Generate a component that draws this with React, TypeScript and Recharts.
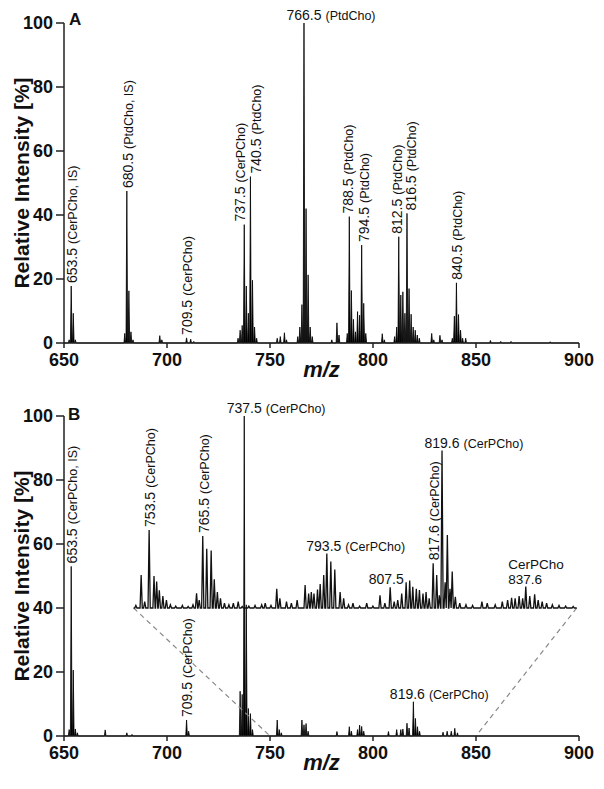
import React from "react";
import {
  Area,
  ComposedChart,
  Line,
  ReferenceLine,
  Scatter,
  XAxis,
  YAxis,
} from "recharts";

const X_TICKS = [650, 700, 750, 800, 850, 900];
const Y_TICKS = [0, 20, 40, 60, 80, 100];

// panel A: m/z and relative intensity of each peak
const A_MZ = [
  652.5, 653.5, 654.5, 655.5, 679.5, 680.5, 681.5, 682.5, 683.5, 696.5, 697.5,
  709.5, 711.5, 713, 734.5, 735.5, 736.5, 737.5, 738.5, 739.5, 740.5, 741.5,
  742.5, 743.5, 753.5, 755, 757, 758, 763.5, 764.5, 765.5, 766.5, 767.5, 768.5,
  769.5, 770.5, 780, 782.5, 783.5, 787.5, 788.5, 789.5, 790.5, 791.5, 792.5,
  793.5, 794.5, 795.5, 796.5, 804.5, 805.5, 810.5, 811.5, 812.5, 813.5, 814.5,
  815.5, 816.5, 817.5, 818.5, 819.5, 820.5, 821.5, 822.5, 828.5, 829.5, 832.5,
  833.5, 838.5, 839.5, 840.5, 841.5, 842.5, 843.5, 845, 857, 862, 867, 886,
];
const A_INT = [
  1, 17.8, 9.3, 1, 3, 47.5, 16.3, 3.5, 1, 2.3, 1,
  1.6, 1.2, 0.5, 1.5, 4, 5.5, 37, 17.8, 9.3, 52, 19.6,
  5, 1.5, 1.5, 2, 3.2, 1, 2, 5, 12, 100, 42, 21.3,
  5, 2, 1, 6.3, 2.5, 3, 39.5, 16.4, 7.4, 3.5, 9.8,
  8.7, 30.6, 12.4, 3, 2.9, 1, 2, 5, 33.2, 15, 16,
  9.3, 40.5, 17, 9, 5, 4, 2.5, 1.5, 3, 1, 2.4,
  1, 1.5, 8.4, 18.8, 8.9, 4, 1.5, 1.5, 0.8, 0.5, 0.5, 0.4,
];

// panel B: full spectrum
const B_MZ = [
  652.5, 653.5, 654.5, 655.5, 656.5, 670, 680.5, 683, 709.5, 710.5, 735.5,
  736.5, 737.5, 738.5, 739.5, 740.5, 741.5, 753.5, 754.5, 755.5, 765.5, 766.5,
  767.5, 768.5, 782.5, 788.5, 789.5, 792.5, 793.5, 794.5, 795.5, 807.5, 811.5,
  813.5, 814.5, 816.5, 817.5, 819.6, 820.6, 821.6, 822.6, 834, 836, 838,
  839.7, 841,
];
const B_INT = [
  2, 53, 20.6, 2.2, 1, 1.9, 1, 0.5, 5, 1.5, 14,
  13, 100, 41, 8.6, 7, 2, 5, 2, 1, 5, 3.5,
  3.9, 1.5, 1.4, 2.9, 1.5, 2, 3.4, 3, 1.5, 1.4, 2,
  2, 2.2, 4, 2.5, 10.7, 5.5, 2.9, 1.5, 1.2, 1.5, 1.5,
  2.4, 1,
];

// panel B inset (m/z 750-850, height above the inset baseline)
const INSET_MZ = [
  750.5, 751.7, 752.5, 753.5, 754.6, 755.2, 755.8, 756.6, 757.4, 758.3, 759.5,
  761, 762.3, 763.4, 764.2, 764.8, 765.6, 766.5, 767.5, 768.2, 768.9, 769.6,
  770.5, 771.5, 772.5, 773.6, 774.5, 776, 777.4, 778.9, 779.7, 781, 782.3,
  783, 784.5, 785.6, 786.9, 788.7, 789.5, 790.1, 790.7, 791.5, 792.1, 792.9,
  793.6, 794.5, 795.4, 796.6, 797.4, 798.5, 799.5, 801, 802.6, 804, 805.6,
  806.7, 807.9, 808.8, 809.6, 810.5, 811.5, 812.3, 813, 813.8, 814.5, 815.3,
  816, 816.7, 817.6, 818.4, 819, 819.6, 820.3, 820.8, 821.4, 821.9, 822.6,
  823.6, 825, 826.5, 828.6, 829.8, 831.6, 833.2, 834.4, 835.3, 836.1, 837,
  837.8, 838.5, 839.4, 840.5, 841.3, 842.2, 843.2, 844.5, 846, 847.5, 849.2,
];
const INSET_INT = [
  0.8, 10.3, 2, 24.4, 10, 8.3, 5.5, 3.7, 2.5, 1, 0.6,
  0.8, 0.5, 1, 4.6, 2.5, 22.5, 18.5, 18, 9, 5, 3,
  1.5, 1, 1.5, 2, 0.5, 0.6, 0.8, 1, 1.5, 0.8, 6,
  3, 2, 1.5, 2.5, 7.2, 4.5, 5, 4.5, 5.8, 7.5, 10.3,
  17, 14.5, 12, 5, 3, 1, 1.5, 0.6, 1.5, 0.6, 4,
  1.5, 6.5, 2, 2.5, 4.5, 8, 8.6, 6.6, 6, 5.6, 4.5,
  5, 3, 14, 10.3, 4, 49.2, 8, 22.8, 6, 11.4, 3.5,
  1.5, 1, 0.8, 2, 1.5, 1, 2, 2.5, 3.2, 3, 3.7,
  3, 6.7, 3.7, 4.3, 2.5, 2, 1.5, 1, 0.8, 0.6, 0.5,
];

const INSET_FROM = 750;
const INSET_TO = 850;
const INSET_LEFT = 683.8;
const INSET_STRETCH = 2.151;
const INSET_BASE = 40;

type Tag = {
  mz: number;
  at: number;
  num: string;
  note?: string;
  dir: "v" | "h" | "stack";
  dx?: number;
  inset?: boolean;
};

const A_TAGS: Tag[] = [
  { mz: 653.5, at: 17.8, num: "653.5", note: "(CerPCho, IS)", dir: "v" },
  { mz: 680.5, at: 47.5, num: "680.5", note: "(PtdCho, IS)", dir: "v" },
  { mz: 709.5, at: 1.6, num: "709.5", note: "(CerPCho)", dir: "v" },
  { mz: 737.5, at: 37, num: "737.5", note: "(CerPCho)", dir: "v", dx: -5 },
  { mz: 740.5, at: 52, num: "740.5", note: "(PtdCho)", dir: "v", dx: 5 },
  { mz: 766.5, at: 100, num: "766.5", note: "(PtdCho)", dir: "h" },
  { mz: 788.5, at: 39.5, num: "788.5", note: "(PtdCho)", dir: "v", dx: -2 },
  { mz: 794.5, at: 30.6, num: "794.5", note: "(PtdCho)", dir: "v", dx: 2 },
  { mz: 812.5, at: 33.2, num: "812.5", note: "(PtdCho)", dir: "v", dx: -3 },
  { mz: 816.5, at: 40.5, num: "816.5", note: "(PtdCho)", dir: "v", dx: 3 },
  { mz: 840.5, at: 18.8, num: "840.5", note: "(PtdCho)", dir: "v" },
];

const B_TAGS: Tag[] = [
  { mz: 653.5, at: 53, num: "653.5", note: "(CerPCho, IS)", dir: "v" },
  { mz: 709.5, at: 5, num: "709.5", note: "(CerPCho)", dir: "v" },
  { mz: 737.5, at: 100, num: "737.5", note: "(CerPCho)", dir: "h" },
  { mz: 819.6, at: 10.7, num: "819.6", note: "(CerPCho)", dir: "h", dx: -6 },
  { mz: 753.5, at: 64.4, num: "753.5", note: "(CerPCho)", dir: "v", inset: true },
  { mz: 765.6, at: 62.5, num: "765.5", note: "(CerPCho)", dir: "v", inset: true },
  { mz: 793.6, at: 57, num: "793.5", note: "(CerPCho)", dir: "h", dx: -3, inset: true },
  { mz: 807.9, at: 46.5, num: "807.5", dir: "h", dx: -4, inset: true },
  { mz: 817.6, at: 54, num: "817.6", note: "(CerPCho)", dir: "v", inset: true },
  { mz: 819.6, at: 89.2, num: "819.6", note: "(CerPCho)", dir: "h", inset: true },
  { mz: 838.5, at: 46.7, num: "837.6", note: "CerPCho", dir: "stack", inset: true },
];

const FONT = "'Liberation Sans', Arial, Helvetica, sans-serif";
const INK = "#111";

const toInsetX = (mz: number) => INSET_LEFT + (mz - INSET_FROM) * INSET_STRETCH;

type Pt = { x: number; y: number };

function spikes(
  mz: number[],
  hi: number[],
  half: number,
  base: number,
  from: number,
  to: number,
  mapX: (v: number) => number
): Pt[] {
  const pts: Pt[] = [
    { x: mapX(from), y: base },
    { x: mapX(to), y: base },
  ];
  mz.forEach((m, i) => {
    pts.push({ x: mapX(m - half), y: base });
    pts.push({ x: mapX(m), y: base + hi[i] });
    pts.push({ x: mapX(m + half), y: base });
  });
  return pts.sort((p, q) => p.x - q.x);
}

const same = (v: number) => v;
const specA = spikes(A_MZ, A_INT, 0.4, 0, 650, 900, same);
const specB = spikes(B_MZ, B_INT, 0.4, 0, 650, 900, same);
const insetB = spikes(INSET_MZ, INSET_INT, 0.25, INSET_BASE, INSET_FROM, INSET_TO, toInsetX);

const tagPoints = (tags: Tag[]) =>
  tags.map((t) => ({ x: t.inset ? toInsetX(t.mz) : t.mz, y: t.at, tag: t }));

const numWidth = (s: string, fs: number) =>
  s.split("").reduce((w, c) => w + (c === "." ? 0.278 : 0.556), 0) * fs;

// eslint-disable-next-line @typescript-eslint/no-explicit-any
function TagShape(props: any) {
  const { cx, cy, payload } = props;
  const t: Tag = payload.tag;
  const x = cx + (t.dx || 0);
  if (t.dir === "v") {
    return (
      <text
        transform={`translate(${x},${cy - 3}) rotate(-90)`}
        dy="0.36em"
        fontFamily={FONT}
        fill={INK}
      >
        <tspan fontSize={14}>{t.num}</tspan>
        {t.note && (
          <tspan dx={4} fontSize={12.5}>
            {t.note}
          </tspan>
        )}
      </text>
    );
  }
  const left = x - numWidth(t.num, 14) / 2;
  if (t.dir === "stack") {
    return (
      <g fontFamily={FONT} fill={INK}>
        <text x={left} y={cy - 18} fontSize={13.5}>
          {t.note}
        </text>
        <text x={left} y={cy - 3} fontSize={13.5}>
          {t.num}
        </text>
      </g>
    );
  }
  return (
    <text x={left} y={cy - 3} fontFamily={FONT} fill={INK}>
      <tspan fontSize={14}>{t.num}</tspan>
      {t.note && (
        <tspan dx={4} fontSize={12.5}>
          {t.note}
        </tspan>
      )}
    </text>
  );
}

// eslint-disable-next-line @typescript-eslint/no-explicit-any
function YTitle(props: any) {
  const vb = props.viewBox || { y: 0, height: 0 };
  const cy = vb.y + vb.height / 2;
  return (
    <text
      transform={`translate(21,${cy}) rotate(-90)`}
      textAnchor="middle"
      dy="0.36em"
      fontFamily={FONT}
      fontWeight="bold"
      fontSize={21}
      fill={INK}
    >
      Relative Intensity [%]
    </text>
  );
}

// eslint-disable-next-line @typescript-eslint/no-explicit-any
function XTitle(props: any) {
  const vb = props.viewBox || { x: 0, y: 0, width: 0 };
  return (
    <text
      x={vb.x + vb.width / 2}
      y={vb.y + 34}
      textAnchor="middle"
      fontFamily={FONT}
      fontWeight="bold"
      fontStyle="italic"
      fontSize={22}
      fill={INK}
    >
      m/z
    </text>
  );
}

const tickStyle = { fontSize: 18, fontWeight: "bold", fill: INK, fontFamily: FONT };
const axisStroke = { stroke: "#222", strokeWidth: 1.5 };

interface PanelProps {
  spectrum: Pt[];
  tags: Tag[];
  inset?: Pt[];
  height: number;
  margin: { top: number; right: number; bottom: number; left: number };
}

const Panel = ({ spectrum, tags, inset, height, margin }: PanelProps) => (
  <ComposedChart width={604} height={height} margin={margin}>
    <XAxis
      type="number"
      dataKey="x"
      domain={[650, 900]}
      ticks={X_TICKS}
      interval={0}
      height={40}
      tickSize={5}
      tickMargin={5}
      tick={tickStyle}
      axisLine={axisStroke}
      tickLine={axisStroke}
      label={<XTitle />}
    />
    <YAxis
      type="number"
      dataKey="y"
      domain={[0, 100]}
      ticks={Y_TICKS}
      interval={0}
      width={64}
      tickSize={8}
      tickMargin={3}
      tick={tickStyle}
      axisLine={axisStroke}
      tickLine={axisStroke}
      label={<YTitle />}
    />
    {inset && (
      <ReferenceLine
        segment={[
          { x: INSET_LEFT, y: INSET_BASE },
          { x: INSET_FROM, y: 0 },
        ]}
        stroke="#888"
        strokeWidth={1.2}
        strokeDasharray="5 4"
      />
    )}
    {inset && (
      <ReferenceLine
        segment={[
          { x: toInsetX(INSET_TO), y: INSET_BASE },
          { x: INSET_TO, y: 0 },
        ]}
        stroke="#888"
        strokeWidth={1.2}
        strokeDasharray="5 4"
      />
    )}
    <Area
      data={spectrum}
      dataKey="y"
      type="linear"
      stroke="#000"
      strokeWidth={0.8}
      fill="#000"
      fillOpacity={1}
      dot={false}
      activeDot={false}
      isAnimationActive={false}
    />
    {inset && (
      <Line
        data={inset}
        dataKey="y"
        type="linear"
        stroke={INK}
        strokeWidth={1.3}
        dot={false}
        activeDot={false}
        isAnimationActive={false}
      />
    )}
    <Scatter
      data={tagPoints(tags)}
      dataKey="y"
      shape={(p: unknown) => <TagShape {...(p as object)} />}
      isAnimationActive={false}
    />
  </ComposedChart>
);

export default function App() {
  return (
    <div style={{ position: "absolute", left: 0, top: 0, width: 604, height: 789, background: "#fff" }}>
      <div style={{ position: "absolute", left: 0, top: 0 }}>
        <Panel
          spectrum={specA}
          tags={A_TAGS}
          height={390}
          margin={{ top: 23, right: 25, bottom: 7, left: 0 }}
        />
      </div>
      <div style={{ position: "absolute", left: 0, top: 390 }}>
        <Panel
          spectrum={specB}
          tags={B_TAGS}
          inset={insetB}
          height={399}
          margin={{ top: 26, right: 25, bottom: 13, left: 0 }}
        />
      </div>
      <svg
        width={604}
        height={789}
        style={{ position: "absolute", left: 0, top: 0, pointerEvents: "none" }}
      >
        <text x={69} y={25} fontFamily={FONT} fontWeight="bold" fontSize={17} fill={INK}>
          A
        </text>
        <text x={68} y={420} fontFamily={FONT} fontWeight="bold" fontSize={17} fill={INK}>
          B
        </text>
      </svg>
    </div>
  );
}
